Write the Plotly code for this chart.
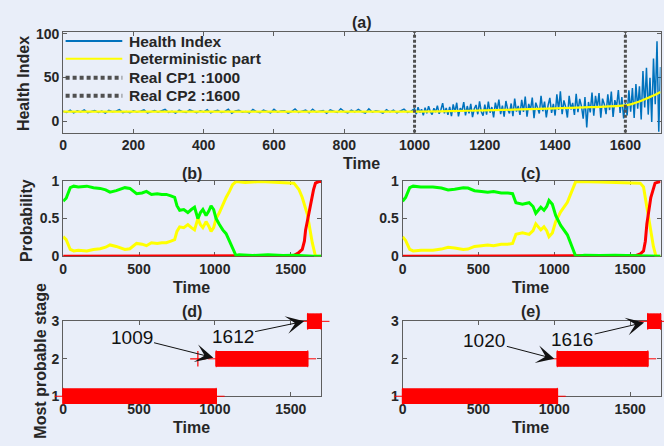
import plotly.graph_objects as go

W, H = 664, 446

# ------------------------------------------------------------------ data
# (a) health index: early part sampled every 10, late part every 5
hi_t_early = list(range(0, 1000, 10))
hi_early = [11.3, 10.0, 12.6, 9.4, 11.7, 10.5, 12.9, 9.7, 11.1, 12.2,
            9.9, 11.6, 9.2, 12.4, 10.7, 11.4, 13.2, 9.8, 11.0, 9.6,
            11.9, 10.4, 11.5, 12.8, 9.5, 10.9, 12.1, 10.2, 11.6, 13.4,
            10.1, 11.3, 9.3, 12.5, 10.8, 10.0, 13.0, 11.2, 9.7, 11.8,
            10.6, 13.1, 9.4, 11.4, 12.3, 9.9, 11.1, 13.6, 9.1, 11.7,
            12.4, 10.2, 11.0, 9.5, 13.3, 10.9, 9.8, 12.7, 11.2, 9.6,
            13.5, 10.3, 11.6, 12.0, 9.2, 10.8, 13.9, 10.1, 11.5, 12.6,
            9.7, 13.7, 10.4, 11.2, 12.1, 9.0, 12.9, 11.4, 9.9, 14.2,
            11.0, 9.4, 12.5, 10.6, 13.4, 10.8, 9.3, 14.0, 10.2, 11.9,
            11.1, 9.1, 13.2, 10.5, 12.7, 9.6, 11.3, 13.8, 10.0, 11.5]
hi_t_late = list(range(1000, 1701, 5))
hi_late = [14.3, 8.0, 15.9, 9.8, 13.6, 6.7, 15.4, 9.1, 17.0, 10.9, 7.6, 14.7, 10.3, 17.8, 8.4, 13.0, 20.6, 8.9, 15.2, 7.1,
           16.4, 5.8, 19.2, 10.3, 21.1, 5.4, 14.9, 11.6, 21.9, 6.7, 17.3, 9.0, 19.8, 4.5, 14.2, 18.5, 7.9, 22.6, 10.8, 6.2,
           19.0, 7.5, 22.4, 9.7, 16.1, 4.4, 21.3, 12.2, 24.7, 8.0, 17.8, 5.2, 23.1, 13.6, 8.8, 20.2, 5.7, 25.9, 11.0, 17.4,
           7.1, 24.5, 10.6, 28.2, 5.0, 19.7, 12.9, 27.0, 3.5, 21.2, 15.4, 8.7, 29.1, 11.3, 22.4, 4.4, 18.1, 26.6, 9.5, 19.9,
           6.4, 30.6, 12.8, 34.2, 8.0, 23.7, 16.3, 4.1, 28.9, 13.4, 20.8, 7.2, 31.4, 10.3, 25.5, 17.1, 2.8, 27.7, -7.2, 22.0,
           10.1, 32.7, 6.2, 29.0, 15.4, 32.1, 3.9, 25.8, 19.3, 8.0, 30.6, 12.7, 33.9, 4.8, 24.1, 16.5, 35.6, 9.3, 27.5, 3.0,
           21.0, 6.5, 35.3, 10.7, 38.0, 3.6, 42.5, 14.2, 39.9, 2.0, 57.3, 15.8, 61.1, 7.5, 49.7, -1.0, 71.8, 19.5, 91.5, -12.0, 62.0]
hi_t = hi_t_early + hi_t_late
hi_v = hi_early + hi_late

det_t = [0, 200, 400, 600, 800, 1000, 1100, 1200, 1300, 1400, 1500, 1600, 1620, 1640, 1660, 1680, 1700]
det_v = [10.8, 10.8, 10.8, 10.8, 10.9, 11.0, 11.5, 12.3, 13.4, 14.6, 16.0, 18.0, 19.8, 22.5, 25.8, 29.3, 33.5]

cp_times = [1000, 1600]
legend_names = ["Health Index", "Deterministic part", "Real CP1 :1000", "Real CP2 :1600"]

# (b) probabilities
b_green_t = [0, 20, 47, 70, 100, 156, 200, 244, 280, 309, 350, 407, 440, 462, 484, 520, 549, 582, 620, 650,
             680, 710, 735, 750, 768, 795, 822, 845, 866, 888, 905, 921, 942, 960, 975, 992, 1008, 1030, 1052,
             1074, 1096, 1117, 1139, 1160, 1250, 1350, 1450, 1520, 1560, 1600, 1650, 1700]
b_green = [0.73, 0.77, 0.91, 0.93, 0.92, 0.93, 0.91, 0.90, 0.88, 0.85, 0.87, 0.91, 0.90, 0.87, 0.83, 0.84, 0.86,
           0.82, 0.83, 0.82, 0.82, 0.80, 0.78, 0.67, 0.61, 0.62, 0.58, 0.62, 0.65, 0.50, 0.58, 0.62, 0.54, 0.60,
           0.67, 0.62, 0.50, 0.42, 0.35, 0.30, 0.20, 0.12, 0.01, 0.02, 0.01, 0.02, 0.01, 0.015, 0.01, 0.0, 0.0, 0.0]
b_yellow_t = [0, 20, 47, 70, 100, 156, 200, 244, 280, 309, 350, 407, 440, 462, 484, 520, 549, 582, 620, 650,
              680, 710, 735, 750, 768, 795, 822, 845, 866, 888, 905, 921, 942, 960, 975, 992, 1008, 1030, 1053,
              1074, 1096, 1117, 1139, 1200, 1300, 1400, 1521, 1554, 1576, 1609, 1642, 1663, 1700]
b_yellow = [0.26, 0.22, 0.09, 0.07, 0.08, 0.07, 0.09, 0.10, 0.12, 0.15, 0.13, 0.09, 0.10, 0.13, 0.17, 0.16, 0.14,
            0.18, 0.17, 0.18, 0.18, 0.20, 0.22, 0.33, 0.39, 0.38, 0.42, 0.38, 0.35, 0.50, 0.42, 0.38, 0.46, 0.40,
            0.33, 0.38, 0.50, 0.58, 0.69, 0.78, 0.86, 0.95, 0.99, 0.98, 0.99, 0.98, 0.97, 0.885, 0.78, 0.56, 0.18,
            0.0, 0.0]
b_red_t = [0, 1480, 1520, 1554, 1576, 1590, 1598, 1615, 1631, 1650, 1663, 1685, 1700]
b_red = [0.0, 0.0, 0.01, 0.05, 0.09, 0.2, 0.35, 0.52, 0.69, 0.88, 0.97, 0.99, 0.99]

# (c) probabilities
c_green_t = [0, 20, 47, 70, 120, 200, 256, 300, 343, 400, 431, 474, 520, 561, 600, 650, 693, 725, 747, 790,
             834, 860, 878, 911, 932, 950, 965, 987, 1009, 1042, 1086, 1119, 1141, 1200, 1300, 1400, 1500, 1560,
             1600, 1700]
c_green = [0.73, 0.78, 0.91, 0.93, 0.92, 0.92, 0.905, 0.88, 0.89, 0.91, 0.905, 0.87, 0.86, 0.85, 0.86, 0.84, 0.84,
           0.83, 0.71, 0.69, 0.71, 0.66, 0.57, 0.65, 0.61, 0.66, 0.74, 0.69, 0.54, 0.41, 0.285, 0.115, 0.0, 0.015,
           0.01, 0.015, 0.01, 0.005, 0.0, 0.0]
c_yellow_t = [0, 20, 47, 70, 120, 200, 256, 300, 343, 400, 431, 474, 520, 561, 600, 650, 693, 725, 747, 790,
              834, 860, 878, 911, 932, 950, 965, 987, 1009, 1042, 1086, 1119, 1141, 1300, 1450, 1566, 1588, 1620,
              1653, 1670, 1700]
c_yellow = [0.26, 0.21, 0.09, 0.07, 0.08, 0.08, 0.095, 0.12, 0.11, 0.09, 0.095, 0.13, 0.14, 0.15, 0.14, 0.16, 0.16,
            0.17, 0.29, 0.31, 0.29, 0.34, 0.43, 0.35, 0.39, 0.34, 0.26, 0.31, 0.46, 0.59, 0.715, 0.885, 0.99, 0.985,
            0.98, 0.97, 0.92, 0.5, 0.13, 0.0, 0.0]
c_red_t = [0, 1500, 1540, 1566, 1588, 1600, 1610, 1636, 1664, 1697, 1700]
c_red = [0.0, 0.0, 0.01, 0.03, 0.07, 0.2, 0.43, 0.78, 0.97, 0.99, 0.99]

# (d), (e) most probable stage: run-length segments (start, end, stage)
d_start = [0, 1009, 1612]
d_end = [1009, 1612, 1700]
d_level = [1, 2, 3]
d_outlier_t = [888]
d_outlier_level = [2]
e_start = [0, 1020, 1616]
e_end = [1020, 1616, 1700]
e_level = [1, 2, 3]

d_labels = ["1009", "1612"]
d_label_pos = [(451, 2.58), (1117, 2.60)]
d_arrow_tip = [(990, 2.03), (1588, 3.0)]
e_labels = ["1020", "1616"]
e_label_pos = [(539, 2.49), (1118, 2.52)]
e_arrow_tip = [(1000, 2.0), (1592, 2.97)]

# ------------------------------------------------------------------ style
BG = "#e9eef9"
AX = "#5e5e5e"
TXT = "#262626"
FONT = "Liberation Sans, Arial, sans-serif"
BLUE = "#0072BD"
GREEN = "#00ff00"
YELLOW = "#ffff00"
RED = "#ff0000"
CPC = "#505050"


def px_x(p):
    return p / W


def px_y(p):
    return 1 - p / H


fig = go.Figure()

# (a)
fig.add_trace(go.Scatter(x=hi_t, y=hi_v, mode="lines", name=legend_names[0],
                         line=dict(color=BLUE, width=1.5), xaxis="x", yaxis="y"))
fig.add_trace(go.Scatter(x=det_t, y=det_v, mode="lines", name=legend_names[1],
                         line=dict(color=YELLOW, width=2.2, shape="spline"), xaxis="x", yaxis="y"))
A_YR = [-13.2, 102]
for t, nm in zip(cp_times, legend_names[2:]):
    fig.add_trace(go.Scatter(x=[t, t], y=A_YR, mode="lines", name=nm,
                             line=dict(color=CPC, width=3, dash="3px,2px"),
                             xaxis="x", yaxis="y"))

# (b), (c)
for (gt, g, yt, yv, rt, r, xa, ya) in [
        (b_green_t, b_green, b_yellow_t, b_yellow, b_red_t, b_red, "x2", "y2"),
        (c_green_t, c_green, c_yellow_t, c_yellow, c_red_t, c_red, "x3", "y3")]:
    fig.add_trace(go.Scatter(x=yt, y=yv, mode="lines", line=dict(color=YELLOW, width=3),
                             xaxis=xa, yaxis=ya))
    fig.add_trace(go.Scatter(x=rt, y=r, mode="lines", line=dict(color=RED, width=3),
                             xaxis=xa, yaxis=ya))
    fig.add_trace(go.Scatter(x=gt, y=g, mode="lines", line=dict(color=GREEN, width=3),
                             xaxis=xa, yaxis=ya))

# (d), (e): stage at each time step (thick bar made of dense tall ticks) + '+' end markers
for (st, en, lv, xa, ya) in [(d_start, d_end, d_level, "x4", "y4"),
                             (e_start, e_end, e_level, "x5", "y5")]:
    ts, ls = [], []
    for a, b, l in zip(st, en, lv):
        for t in range(a, b + 1, 2):
            ts.append(t)
            ls.append(l)
    fig.add_trace(go.Scatter(x=ts, y=ls, mode="markers",
                             marker=dict(symbol="line-ns", size=10.7, line=dict(color=RED, width=1.6)),
                             xaxis=xa, yaxis=ya, cliponaxis=False))
    fig.add_trace(go.Scatter(x=st + en, y=lv + lv, mode="markers",
                             marker=dict(symbol="cross-thin", size=12, line=dict(color=RED, width=1)),
                             xaxis=xa, yaxis=ya, cliponaxis=False))
fig.add_trace(go.Scatter(x=d_outlier_t, y=d_outlier_level, mode="markers",
                         marker=dict(symbol="cross-thin", size=11, line=dict(color=RED, width=1.2)),
                         xaxis="x4", yaxis="y4", cliponaxis=False))

# ------------------------------------------------------------------ axes
tickfont = dict(family=FONT, size=14, color=TXT, weight="bold")


def ax(domain, rng, anchor, dtick=None, tickvals=None):
    d = dict(domain=domain, range=rng, showline=True, linecolor=AX, linewidth=1, mirror="ticks",
             ticks="inside", ticklen=4, tickcolor=AX, tickwidth=1, showgrid=False, zeroline=False,
             tickfont=tickfont, anchor=anchor, layer="below traces")
    if tickvals is not None:
        d["tickvals"] = tickvals
    else:
        d["dtick"] = dtick
        d["tick0"] = 0
    return d


xa_dom = [px_x(59.5), px_x(660.5)]
xl_dom = [px_x(59.5), px_x(319)]
xr_dom = [px_x(401), px_x(660.5)]
ya_dom = [px_y(129.3), px_y(25)]
ym_dom = [px_y(257.5), px_y(179.3)]
yb_dom = [px_y(402.7), px_y(325)]

fig.update_layout(
    width=W, height=H, margin=dict(l=0, r=0, t=0, b=0),
    paper_bgcolor=BG, plot_bgcolor=BG,
    font=dict(family=FONT, color=TXT),
    showlegend=False,
    xaxis=ax(xa_dom, [0, 1700], "y", dtick=200),
    yaxis=ax(ya_dom, A_YR, "x", tickvals=[0, 50, 100]),
    xaxis2=ax(xl_dom, [0, 1700], "y2", dtick=500),
    yaxis2=ax(ym_dom, [0, 1], "x2", tickvals=[0, 0.5, 1]),
    xaxis3=ax(xr_dom, [0, 1700], "y3", dtick=500),
    yaxis3=ax(ym_dom, [0, 1], "x3", tickvals=[0, 0.5, 1]),
    xaxis4=ax(xl_dom, [0, 1700], "y4", dtick=500),
    yaxis4=ax(yb_dom, [1, 3], "x4", tickvals=[1, 2, 3]),
    xaxis5=ax(xr_dom, [0, 1700], "y5", dtick=500),
    yaxis5=ax(yb_dom, [1, 3], "x5", tickvals=[1, 2, 3]),
)

# ------------------------------------------------------------------ legend (drawn in panel a)
leg_styles = [dict(color=BLUE, width=2), dict(color=YELLOW, width=2),
              dict(color=CPC, width=4, dash="4px,3px"), dict(color=CPC, width=4, dash="4px,3px")]
leg_y = [34.3, 52.7, 72.3, 91]
shapes = []
ann = []
leg_font = dict(family=FONT, size=15.5, color=TXT, weight="bold")
for nm, stl, y in zip(legend_names, leg_styles, leg_y):
    shapes.append(dict(type="line", xref="paper", yref="paper", x0=px_x(62), x1=px_x(119),
                       y0=px_y(y), y1=px_y(y), line=stl))
    ann.append(dict(text=nm, x=px_x(124), y=px_y(y), xref="paper", yref="paper", showarrow=False,
                    font=leg_font, xanchor="left", yanchor="middle"))

# ------------------------------------------------------------------ text
ttl = dict(family=FONT, size=16, color=TXT, weight="bold")
lab = dict(family=FONT, size=16, color=TXT, weight="bold")
for txt, x, y in [("(a)", 360, 15), ("(b)", 189, 172), ("(c)", 530, 172), ("(d)", 189, 315), ("(e)", 530, 315)]:
    ann.append(dict(text=txt, x=px_x(x), y=px_y(y), xref="paper", yref="paper", showarrow=False,
                    font=ttl, xanchor="center", yanchor="middle"))
for x, y in [(360, 161), (189, 290), (530, 290), (189, 435), (530, 435)]:
    ann.append(dict(text="Time", x=px_x(x), y=px_y(y), xref="paper", yref="paper", showarrow=False,
                    font=lab, xanchor="center", yanchor="middle"))
for txt, x, y in [("Health Index", 19, 78), ("Probability", 22, 220), ("Most probable stage", 37, 366)]:
    ann.append(dict(text=txt, x=px_x(x), y=px_y(y), xref="paper", yref="paper", showarrow=False,
                    font=lab, textangle=-90, xanchor="center", yanchor="middle"))

num_font = dict(family=FONT, size=19, color="#111111")
for labels, pos, tips, xa, ya in [(d_labels, d_label_pos, d_arrow_tip, "x4", "y4"),
                                  (e_labels, e_label_pos, e_arrow_tip, "x5", "y5")]:
    for txt, (tx, ty), (ax_, ay_) in zip(labels, pos, tips):
        ann.append(dict(text=txt, x=ax_, y=ay_, ax=tx, ay=ty, xref=xa, yref=ya, axref=xa, ayref=ya,
                        showarrow=True, arrowhead=3, arrowsize=3.0, arrowwidth=1, arrowcolor="#111111",
                        font=num_font, standoff=0))
fig.update_layout(annotations=ann, shapes=shapes)

fig.write_html("out.html")
